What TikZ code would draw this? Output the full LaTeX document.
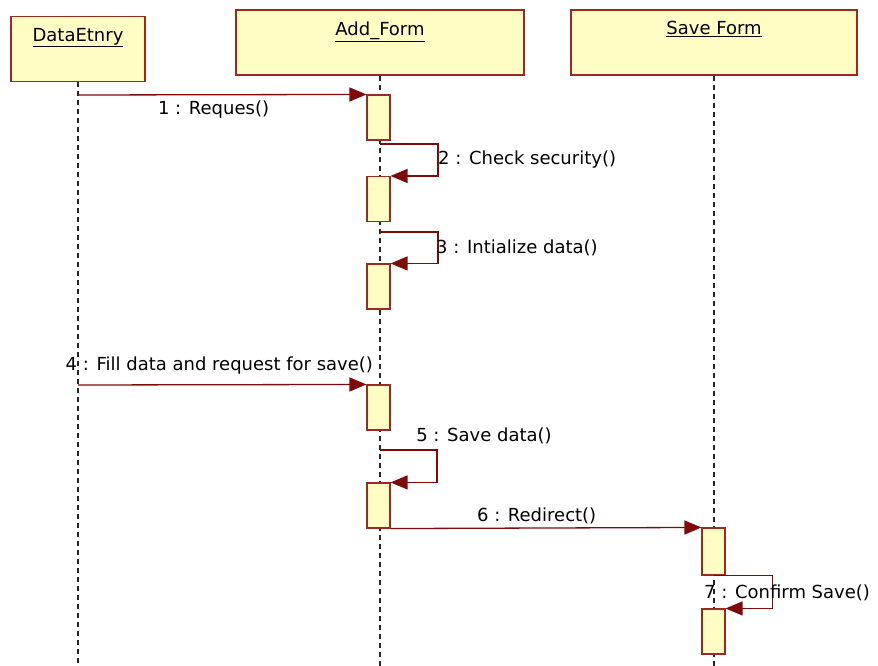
\documentclass[tikz,border=0pt]{standalone}
\usepackage{fontspec}
\setsansfont{DejaVu Sans}
\usepackage{tikz}
\usetikzlibrary{arrows.meta, positioning, calc}
\usepackage{xcolor}
\definecolor{edge}{HTML}{9A2A22}
\definecolor{wire}{HTML}{7E0A0A}
\definecolor{pale}{HTML}{FFFCC4}
\begin{document}
\begin{tikzpicture}[x=1pt, y=-1pt,
      obj/.style={rectangle, draw=edge, fill=pale, line width=1.3pt,
                  minimum height=65pt, inner sep=0pt},
      objtxt/.style={font=\sffamily\fontsize{18}{21}\selectfont, inner sep=1pt},
      act/.style={rectangle, draw=edge, fill=pale, line width=1.1pt,
                  minimum width=23pt, minimum height=45pt, inner sep=0pt},
      life/.style={draw=black!85, line width=1.5pt, dash pattern=on 5pt off 4pt},
      msg/.style={draw=wire, line width=1.3pt,
                  -{Triangle[length=17pt, width=14pt, fill=wire]}},
      lbl/.style={font=\sffamily\fontsize{18}{21}\selectfont, inner sep=1pt}]
      \useasboundingbox (0,0) rectangle (878,666);
      \node[obj, minimum width=134pt] (entry) at (78,49) {};
      \node[obj, minimum width=288pt] (addform) at (380,42.5) {};
      \node[obj, minimum width=286pt] (saveform) at (714,42.5) {};
      \node[objtxt, below=11pt of entry.north] {\underline{DataEtnry}};
      \node[objtxt, below=11pt of addform.north] {\underline{Add\_Form}};
      \node[objtxt, below=11pt of saveform.north] {\underline{Save Form}};
      \coordinate (entryend) at (78,666);
      \coordinate (addend) at (380,666);
      \coordinate (saveend) at (714,666);
      \draw[life] (entry.south) -- (entryend);
      \draw[life] (addform.south) -- (addend);
      \draw[life] (saveform.south) -- (saveend);
      \foreach \n/\y in {a1/117.5,a2/199,a3/286.5,a4/407.5,a5/505.5}
        \node[act] (\n) at (378.5,\y) {};
      \node[act, minimum height=47pt] (s1) at (713.5,551.5) {};
      \node[act] (s2) at (713.5,631.5) {};
      \coordinate (m1) at (78,95);
      \coordinate (m2) at (380,144);
      \coordinate (m3) at (380,232);
      \coordinate (m4) at (78,385);
      \coordinate (m5) at (380,450);
      \draw[msg] (m1) -- (a1.north west)
        node[lbl, pos=0.47, below=4pt] {1 : Reques()};
      \draw[msg] (m2) -- ++(58,0) |- (a2.north east);
      \node[lbl, anchor=west] at (437,160) {2 : Check security()};
      \draw[msg] (m3) -- ++(58,0) |- (a3.north east);
      \node[lbl, anchor=west] at (435,248) {3 : Intialize data()};
      \draw[msg] (m4) -- (a4.north west)
        node[lbl, pos=0.49, above=9pt] {4 : Fill data and request for save()};
      \draw[msg] (m5) -- ++(57,0) |- (a5.north east);
      \node[lbl] at (484,436) {5 : Save data()};
      \draw[msg] (a5.south east) -- (s1.north west)
        node[lbl, pos=0.47, above=3pt] {6 : Redirect()};
      \draw[msg] (s1.south) -- ++(59,0) |- (s2.north east);
      \node[lbl, anchor=west] at (703,593) {7 : Confirm Save()};
    \end{tikzpicture}
\end{document}
